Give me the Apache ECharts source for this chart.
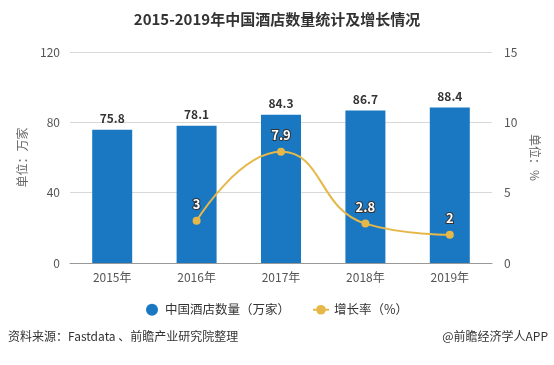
<!DOCTYPE html>
<html>
<head>
<meta charset="utf-8">
<script src="https://cdn.jsdelivr.net/npm/echarts@6/dist/echarts.min.js"></script>
<style>
html,body{margin:0;padding:0;background:#fff;}
#c{width:554px;height:365px;}
</style>
</head>
<body>
<div id="c"></div>
<script>
var categories = ['2015年','2016年','2017年','2018年','2019年'];
var hotelCount = [75.8, 78.1, 84.3, 86.7, 88.4];
var growthRate = [null, 3, 7.9, 2.8, 2];
var leftTicks = [0, 40, 80, 120];
var rightTicks = [0, 5, 10, 15];

var chart = echarts.init(document.getElementById('c'), null, {renderer:'canvas'});
var font = '"Microsoft YaHei","Noto Sans CJK SC",sans-serif';
chart.setOption({
  backgroundColor:'#fff',
  animation:false,
  textStyle:{fontFamily:font},
  title:{
    text:'2015-2019年中国酒店数量统计及增长情况',
    left:'center', top:7,
    textStyle:{fontSize:15, fontWeight:'bold', color:'#333', fontFamily:font}
  },
  grid:{left:70, right:62, top:52, bottom:102},
  legend:{
    bottom:44, left:'center', itemGap:22, itemWidth:16, itemHeight:12,
    textStyle:{fontSize:12.5, color:'#333'},
    data:[{name:'中国酒店数量（万家）', icon:'circle'},{name:'增长率（%）'}]
  },
  xAxis:{
    type:'category', data:categories,
    axisLine:{lineStyle:{color:'#999'}},
    axisTick:{alignWithLabel:true, lineStyle:{color:'#999'}},
    axisLabel:{color:'#555', fontSize:12, margin:8}
  },
  yAxis:[{
    type:'value', min:leftTicks[0], max:leftTicks[leftTicks.length-1], interval:40,
    name:'单位：万家', nameLocation:'middle', nameGap:42, nameRotate:90,
    nameTextStyle:{color:'#666', fontSize:12},
    axisLine:{show:false}, axisTick:{show:false},
    axisLabel:{color:'#555', fontSize:12, margin:10},
    splitLine:{lineStyle:{color:'#d8d8d8'}}
  },{
    type:'value', min:rightTicks[0], max:rightTicks[rightTicks.length-1], interval:5,
    name:'单位：%', nameLocation:'middle', nameGap:36, nameRotate:-90,
    nameTextStyle:{color:'#666', fontSize:12},
    axisLine:{show:false}, axisTick:{show:false},
    axisLabel:{color:'#555', fontSize:12, margin:12},
    splitLine:{show:false}
  }],
  series:[{
    name:'中国酒店数量（万家）', type:'bar', data:hotelCount, barWidth:40,
    itemStyle:{color:'#1a78c2'},
    label:{show:true, position:'top', distance:5, color:'#333', fontWeight:'bold', fontSize:12}
  },{
    name:'增长率（%）', type:'line', yAxisIndex:1, data:growthRate, smooth:true,
    symbol:'circle', symbolSize:8,
    lineStyle:{color:'#e6b84a', width:2},
    itemStyle:{color:'#e6b84a'},
    label:{show:true, position:'top', distance:6, color:'#fff', fontWeight:'bold', fontSize:13,
      textBorderColor:'#333', textBorderWidth:2}
  }],
  graphic:[{
    type:'text', left:8, top:330,
    style:{text:'资料来源：Fastdata 、前瞻产业研究院整理', fill:'#333', font:'12px '+font}
  },{
    type:'text', right:6, top:330,
    style:{text:'@前瞻经济学人APP', fill:'#333', font:'12px '+font}
  }]
});
</script>
</body>
</html>
